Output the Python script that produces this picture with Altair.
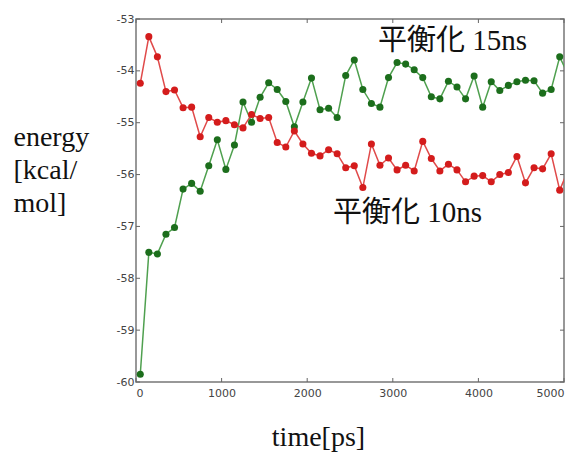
import altair as alt
import pandas as pd

time_ps = [50, 150, 250, 350, 450, 550, 650, 750, 850, 950,
           1050, 1150, 1250, 1350, 1450, 1550, 1650, 1750, 1850, 1950,
           2050, 2150, 2250, 2350, 2450, 2550, 2650, 2750, 2850, 2950,
           3050, 3150, 3250, 3350, 3450, 3550, 3650, 3750, 3850, 3950,
           4050, 4150, 4250, 4350, 4450, 4550, 4650, 4750, 4850, 4950, 5050]

green_15ns = [-59.85, -57.50, -57.53, -57.15, -57.02, -56.28, -56.17, -56.32, -55.83, -55.33,
              -55.90, -55.43, -54.60, -54.99, -54.51, -54.23, -54.36, -54.59, -55.08, -54.60,
              -54.14, -54.75, -54.72, -54.90, -54.09, -53.79, -54.36, -54.63, -54.70, -54.13,
              -53.84, -53.87, -53.98, -54.13, -54.50, -54.54, -54.20, -54.31, -54.54, -54.10,
              -54.70, -54.21, -54.38, -54.28, -54.21, -54.18, -54.19, -54.43, -54.36, -53.73, -54.08]

red_10ns = [-54.24, -53.34, -53.73, -54.40, -54.37, -54.71, -54.70, -55.27, -54.90, -54.99,
            -54.96, -55.04, -55.10, -54.84, -54.92, -54.90, -55.38, -55.47, -55.16, -55.41,
            -55.59, -55.64, -55.52, -55.60, -55.87, -55.83, -56.25, -55.41, -55.82, -55.68,
            -55.91, -55.82, -55.93, -55.36, -55.69, -55.93, -55.80, -55.91, -56.14, -56.03,
            -56.02, -56.14, -56.00, -55.96, -55.65, -56.16, -55.87, -55.89, -55.60, -56.30, -55.91]

x_ticks = [0, 1000, 2000, 3000, 4000, 5000]
y_ticks = [-60, -59, -58, -57, -56, -55, -54, -53]

label_text = ["平衡化 15ns", "平衡化 10ns"]
label_x = [2827, 2301]
label_y = [-53.60, -56.91]

W, H = 428, 363
SERIF = "Liberation Serif, Noto Sans CJK JP"

df = pd.concat([
    pd.DataFrame({"time": time_ps, "energy": green_15ns, "series": "15ns"}),
    pd.DataFrame({"time": time_ps, "energy": red_10ns, "series": "10ns"}),
])
labels_df = pd.DataFrame({"x": label_x, "y": label_y, "text": label_text})
xt_df = pd.DataFrame({"t": x_ticks})
yt_df = pd.DataFrame({"t": y_ticks})

xscale = alt.Scale(domain=[0, 5000], nice=False, zero=False)
yscale = alt.Scale(domain=[-60, -53], nice=False, zero=False)

x_axis = alt.Axis(values=x_ticks, grid=False, domain=False, tickSize=0,
                  labelFont="DejaVu Sans", labelFontSize=11, labelColor="#444",
                  labelPadding=5, labelExpr="'' + datum.value",
                  title="time[ps]", titleFont=SERIF,
                  titleFontSize=28, titleFontWeight="normal", titleColor="#111",
                  titleX=182, titleY=63, titleBaseline="alphabetic", titleAlign="center")
y_axis = alt.Axis(values=y_ticks, grid=False, domain=False, tickSize=0,
                  labelFont="DejaVu Sans", labelFontSize=11, labelColor="#444",
                  labelPadding=2, labelExpr="'' + datum.value",
                  title=["energy", "[kcal/", "mol]"], titleFont=SERIF,
                  titleFontSize=28, titleFontWeight="normal", titleColor="#111",
                  titleAngle=0, titleAlign="left", titleX=-123, titleY=126,
                  titleBaseline="alphabetic", titleLineHeight=33)

color_scale_line = alt.Scale(domain=["15ns", "10ns"], range=["#4fa04f", "#e04a4a"])
color_scale_pt = alt.Scale(domain=["15ns", "10ns"], range=["#1c6e1c", "#d41c1c"])

base = alt.Chart(df)
lines = base.mark_line(strokeWidth=1.5, clip=True).encode(
    x=alt.X("time:Q", scale=xscale, axis=x_axis),
    y=alt.Y("energy:Q", scale=yscale, axis=y_axis),
    color=alt.Color("series:N", scale=color_scale_line, legend=None),
    detail="series:N",
)
points = base.mark_circle(size=50, opacity=1, clip=True).encode(
    x=alt.X("time:Q", scale=xscale),
    y=alt.Y("energy:Q", scale=yscale),
    fill=alt.Fill("series:N", scale=color_scale_pt, legend=None),
)
texts = alt.Chart(labels_df).mark_text(
    align="left", baseline="alphabetic", font=SERIF, fontSize=29, color="#111"
).encode(
    x=alt.X("x:Q", scale=xscale),
    y=alt.Y("y:Q", scale=yscale),
    text="text:N",
)

tick_color = "#666"
xt_bottom = alt.Chart(xt_df).mark_rule(color=tick_color).encode(
    x=alt.X("t:Q", scale=xscale), y=alt.value(H - 4), y2=alt.value(H))
xt_top = alt.Chart(xt_df).mark_rule(color=tick_color).encode(
    x=alt.X("t:Q", scale=xscale), y=alt.value(0), y2=alt.value(4))
yt_left = alt.Chart(yt_df).mark_rule(color=tick_color).encode(
    y=alt.Y("t:Q", scale=yscale), x=alt.value(0), x2=alt.value(4))
yt_right = alt.Chart(yt_df).mark_rule(color=tick_color).encode(
    y=alt.Y("t:Q", scale=yscale), x=alt.value(W - 4), x2=alt.value(W))

chart = alt.layer(
    xt_bottom, xt_top, yt_left, yt_right, lines, points, texts
).properties(
    width=W, height=H,
    autosize=alt.AutoSizeParams(type="none"),
    padding={"left": 128, "top": 11, "right": 8, "bottom": 72},
    background="white",
).configure_view(stroke="#777", strokeWidth=1.5)

chart.save("out.html", embed_options={"renderer": "svg", "actions": False})
